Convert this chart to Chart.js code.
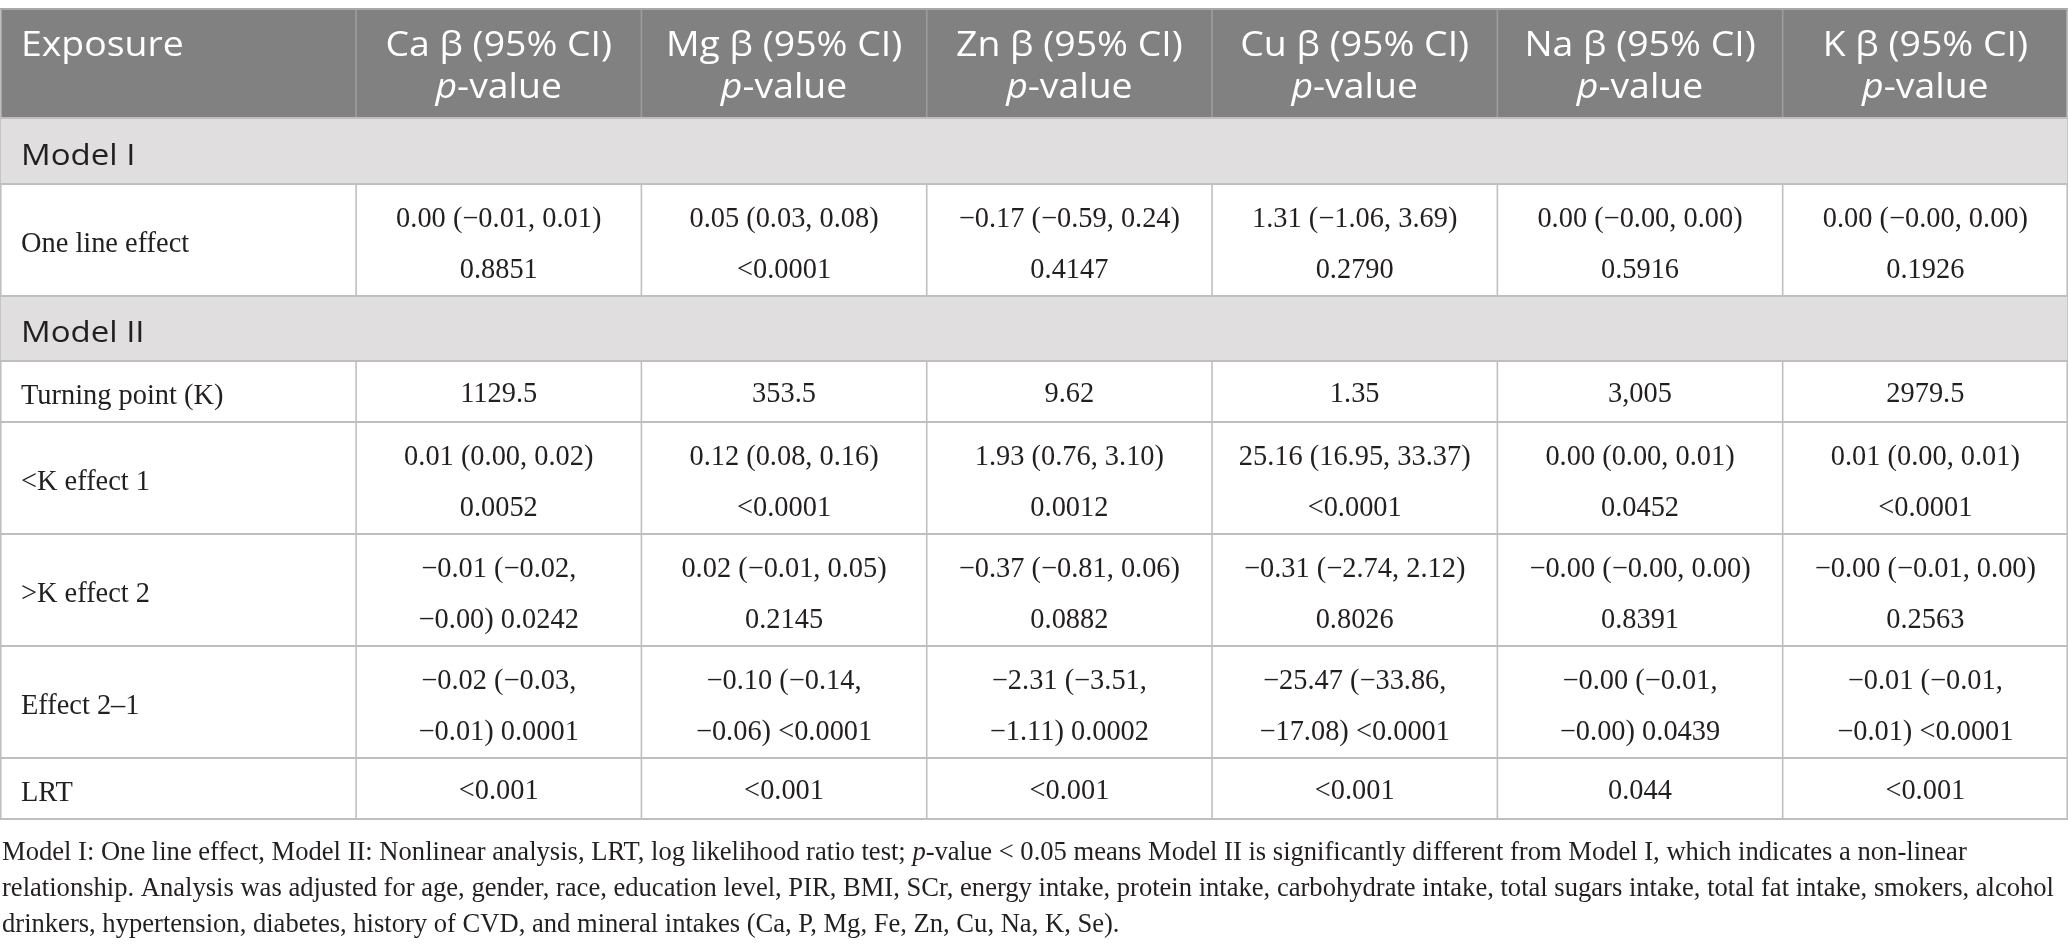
<!DOCTYPE html>
<html>
<head>
<meta charset="utf-8">
<script src="https://cdn.jsdelivr.net/npm/chart.js@4.4.1/dist/chart.umd.min.js"></script>
<style>
  html, body { margin: 0; padding: 0; background: #ffffff; overflow: hidden; }
  #wrap { width: 2068px; height: 951px; position: relative; }
</style>
</head>
<body>
<div id="wrap"><canvas id="c"></canvas></div>
<script>
// ---------------- DATA ----------------
const headerLine1 = ["Exposure", "Ca β (95% CI)", "Mg β (95% CI)", "Zn β (95% CI)", "Cu β (95% CI)", "Na β (95% CI)", "K β (95% CI)"];
const headerLine2 = ["", "§p§-value", "§p§-value", "§p§-value", "§p§-value", "§p§-value", "§p§-value"];

const rowKinds  = ["header", "section", "data", "section", "data", "data", "data", "data", "data"];
const rowLabels = ["Exposure", "Model I", "One line effect", "Model II", "Turning point (K)", "<K effect 1", ">K effect 2", "Effect 2–1", "LRT"];

// cell text per mineral column, in order of the data rows (lines separated by \n)
const caCells = ["0.00 (−0.01, 0.01)\n0.8851", "1129.5", "0.01 (0.00, 0.02)\n0.0052", "−0.01 (−0.02,\n−0.00) 0.0242", "−0.02 (−0.03,\n−0.01) 0.0001", "<0.001"];
const mgCells = ["0.05 (0.03, 0.08)\n<0.0001", "353.5", "0.12 (0.08, 0.16)\n<0.0001", "0.02 (−0.01, 0.05)\n0.2145", "−0.10 (−0.14,\n−0.06) <0.0001", "<0.001"];
const znCells = ["−0.17 (−0.59, 0.24)\n0.4147", "9.62", "1.93 (0.76, 3.10)\n0.0012", "−0.37 (−0.81, 0.06)\n0.0882", "−2.31 (−3.51,\n−1.11) 0.0002", "<0.001"];
const cuCells = ["1.31 (−1.06, 3.69)\n0.2790", "1.35", "25.16 (16.95, 33.37)\n<0.0001", "−0.31 (−2.74, 2.12)\n0.8026", "−25.47 (−33.86,\n−17.08) <0.0001", "<0.001"];
const naCells = ["0.00 (−0.00, 0.00)\n0.5916", "3,005", "0.00 (0.00, 0.01)\n0.0452", "−0.00 (−0.00, 0.00)\n0.8391", "−0.00 (−0.01,\n−0.00) 0.0439", "0.044"];
const kCells  = ["0.00 (−0.00, 0.00)\n0.1926", "2979.5", "0.01 (0.00, 0.01)\n<0.0001", "−0.00 (−0.01, 0.00)\n0.2563", "−0.01 (−0.01,\n−0.01) <0.0001", "<0.001"];

const footnoteLines = [
  "Model I: One line effect, Model II: Nonlinear analysis, LRT, log likelihood ratio test; §p§-value < 0.05 means Model II is significantly different from Model I, which indicates a non-linear",
  "relationship. Analysis was adjusted for age, gender, race, education level, PIR, BMI, SCr, energy intake, protein intake, carbohydrate intake, total sugars intake, total fat intake, smokers, alcohol",
  "drinkers, hypertension, diabetes, history of CVD, and mineral intakes (Ca, P, Mg, Fe, Zn, Cu, Na, K, Se)."
];

// ---------------- LAYOUT (scale units) ----------------
const colUnits   = [1.248, 1, 1, 1, 1, 1, 1];          // x-scale units per column
const tableTop   = 9;                                  // y-scale units
const rowHeights = [109, 66, 112, 65, 61, 112, 112, 112, 61];
const footOffsets = [34, 70, 106];
const yTotal = 951;

// ---------------- STYLE ----------------
const HEAD_BG = "#818181", SECT_BG = "#e0dedf", GRID = "#bfbfbf", HEAD_GRID = "#9d9d9d";
const TEXT = "#231f20";
const headFont = { size: 34, family: "'Open Sans', 'Noto Sans', sans-serif", sx: 1.1 };
const sectFont = { size: 30, family: "'Open Sans', 'Noto Sans', sans-serif", sx: 1.1 };
const bodyFont = { size: 28.4, family: "'Liberation Serif', 'Times New Roman', serif", sx: 1.0 };
const footFont = { size: 27.5, family: "'Liberation Serif', 'Times New Roman', serif", sx: 1.0 };
const PAD = 21;

const mineralCols = [caCells, mgCells, znCells, cuCells, naCells, kCells];

function runsOf(str) {
  return str.split("§").map((t, i) => ({ t, it: i % 2 === 1 })).filter(r => r.t.length);
}
function fontStr(f, it) { return (it ? "italic " : "") + f.size + "px " + f.family; }
function runsWidth(ctx, runs, f) {
  let w = 0;
  runs.forEach(r => { ctx.font = fontStr(f, r.it); w += ctx.measureText(r.t).width; });
  return w;
}
function drawRuns(ctx, str, x, y, align, f, color, sxOverride) {
  const runs = runsOf(str);
  const sx = sxOverride || f.sx;
  const w = runsWidth(ctx, runs, f) * sx;
  let start = align === "center" ? x - w / 2 : x;
  ctx.save();
  ctx.fillStyle = color;
  ctx.textBaseline = "middle";
  ctx.textAlign = "left";
  ctx.translate(start, y);
  ctx.scale(sx, 1);
  let cx = 0;
  runs.forEach(r => {
    ctx.font = fontStr(f, r.it);
    ctx.fillText(r.t, cx, 0);
    cx += ctx.measureText(r.t).width;
  });
  ctx.restore();
}

const tablePlugin = {
  id: "tablePlugin",
  beforeDraw(chart) {
    const ctx = chart.ctx;
    ctx.save();
    ctx.fillStyle = "#ffffff";
    ctx.fillRect(0, 0, chart.width, chart.height);
    ctx.restore();
  },
  afterDatasetsDraw(chart) {
    const ctx = chart.ctx, xs = chart.scales.x, ys = chart.scales.y;
    const X = v => xs.getPixelForValue(v), Y = v => ys.getPixelForValue(v);
    const colEdges = [0];
    colUnits.forEach(u => colEdges.push(colEdges[colEdges.length - 1] + u));
    const rowEdges = [tableTop];
    rowHeights.forEach(h => rowEdges.push(rowEdges[rowEdges.length - 1] + h));
    const xL = X(colEdges[0]), xR = X(colEdges[colEdges.length - 1]);

    // backgrounds
    rowKinds.forEach((k, r) => {
      if (k === "data") return;
      ctx.fillStyle = k === "header" ? HEAD_BG : SECT_BG;
      ctx.fillRect(xL, Y(rowEdges[r]), xR - xL, Y(rowEdges[r + 1]) - Y(rowEdges[r]));
    });

    // vertical lines
    ctx.lineWidth = 1.6;
    rowKinds.forEach((k, r) => {
      if (k === "section") {
        [colEdges[0], colEdges[colEdges.length - 1]].forEach(c => {
          ctx.strokeStyle = GRID;
          ctx.beginPath(); ctx.moveTo(X(c), Y(rowEdges[r])); ctx.lineTo(X(c), Y(rowEdges[r + 1])); ctx.stroke();
        });
        return;
      }
      colEdges.forEach((c, i) => {
        ctx.strokeStyle = (k === "header" && i > 0 && i < colEdges.length - 1) ? HEAD_GRID : GRID;
        let px = X(c);
        if (i === 0) px += 0.8; if (i === colEdges.length - 1) px -= 0.8;
        ctx.beginPath(); ctx.moveTo(px, Y(rowEdges[r])); ctx.lineTo(px, Y(rowEdges[r + 1])); ctx.stroke();
      });
    });
    // horizontal lines
    rowEdges.forEach((e, i) => {
      ctx.strokeStyle = i === 0 ? "#a9a9a9" : GRID;
      ctx.lineWidth = 1.8;
      ctx.beginPath(); ctx.moveTo(xL, Y(e)); ctx.lineTo(xR, Y(e)); ctx.stroke();
    });

    // header text
    const hTop = Y(rowEdges[0]), hBot = Y(rowEdges[1]), hMid = (hTop + hBot) / 2;
    headerLine1.forEach((t, i) => {
      if (i === 0) {
        drawRuns(ctx, t, X(colEdges[0]) + PAD, hMid - 17, "left", headFont, "#ffffff");
      } else {
        const cx = (X(colEdges[i]) + X(colEdges[i + 1])) / 2;
        drawRuns(ctx, t, cx, hMid - 17, "center", headFont, "#ffffff");
        drawRuns(ctx, headerLine2[i], cx, hMid + 25, "center", headFont, "#ffffff");
      }
    });

    // body rows
    let dataIdx = 0;
    rowKinds.forEach((k, r) => {
      if (k === "header") return;
      const yMid = (Y(rowEdges[r]) + Y(rowEdges[r + 1])) / 2;
      if (k === "section") {
        drawRuns(ctx, rowLabels[r], X(colEdges[0]) + PAD, yMid + 5, "left", sectFont, TEXT);
        return;
      }
      drawRuns(ctx, rowLabels[r], X(colEdges[0]) + PAD, yMid + 5, "left", bodyFont, TEXT);
      mineralCols.forEach((col, c) => {
        const lines = col[dataIdx].split("\n");
        const cx = (X(colEdges[c + 1]) + X(colEdges[c + 2])) / 2;
        const step = 50.5;
        const off = lines.length > 1 ? 5 : 3;
        lines.forEach((ln, li) => {
          const yy = yMid + off + (li - (lines.length - 1) / 2) * step;
          drawRuns(ctx, ln, cx, yy, "center", bodyFont, TEXT);
        });
      });
      dataIdx++;
    });

    // footnote
    const tBot = rowEdges[rowEdges.length - 1];
    const maxW = Math.max(...footnoteLines.map(l => runsWidth(ctx, runsOf(l), footFont)));
    const fsx = Math.min(1, (X(colEdges[colEdges.length - 1]) - X(0) - 16) / maxW);
    footnoteLines.forEach((l, i) => {
      drawRuns(ctx, l, X(0) + 2, Y(tBot + footOffsets[i]), "left", footFont, TEXT, fsx);
    });
  }
};

const totalCols = colUnits.reduce((a, b) => a + b, 0);

new Chart(document.getElementById("c"), {
  type: "scatter",
  data: { datasets: [{ data: [], pointRadius: 0 }] },
  options: {
    responsive: true,
    maintainAspectRatio: false,
    animation: false,
    layout: { padding: 0 },
    plugins: { legend: { display: false }, tooltip: { enabled: false } },
    scales: {
      x: { type: "linear", min: 0, max: totalCols, display: false },
      y: { type: "linear", min: 0, max: yTotal, reverse: true, display: false }
    }
  },
  plugins: [tablePlugin]
});
</script>
</body>
</html>
